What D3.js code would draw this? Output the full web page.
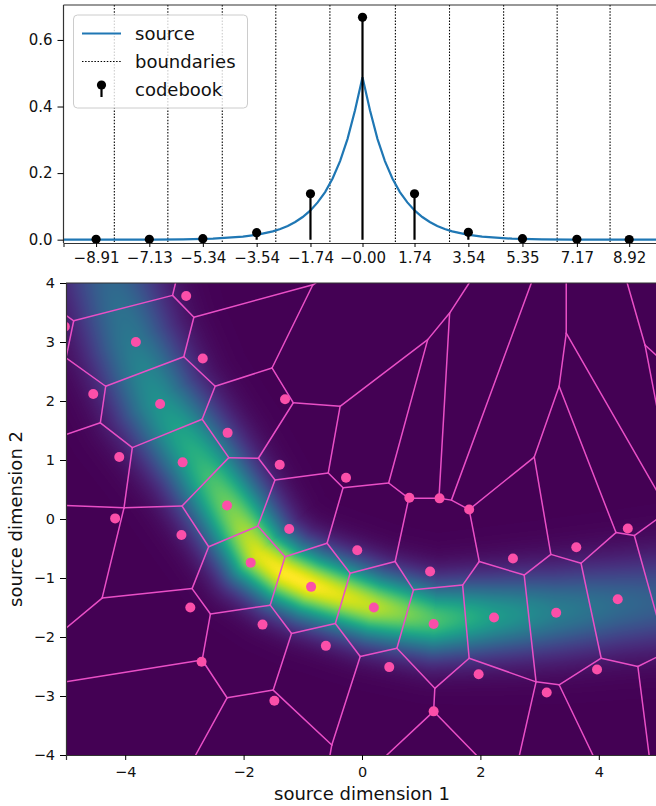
<!DOCTYPE html>
<html>
<head>
<meta charset="utf-8">
<script src="https://cdn.jsdelivr.net/npm/d3@7"></script>
<style>
body{margin:0;background:#fff;}
text{font-family:"DejaVu Sans",sans-serif;}
</style>
</head>
<body>
<svg id="fig" width="656" height="806"></svg>
<script>
// ---------- top panel: 1-d source and its quantizer ----------
var codebook=[-8.91,-7.13,-5.34,-3.54,-1.74,-0.00,1.74,3.54,5.35,7.17,8.92];
var codebookLabels=["\u22128.91","\u22127.13","\u22125.34","\u22123.54","\u22121.74","\u22120.00","1.74","3.54","5.35","7.17","8.92"];
var codebookProb=[0.001,0.001,0.003,0.021,0.138,0.668,0.138,0.022,0.003,0.001,0.0005];
var boundaries=[-8.30,-6.51,-4.69,-2.90,-1.09,1.10,2.91,4.72,6.51,8.28];
var sourceX=[-10,-9,-8,-7,-6,-5,-4,-3.5,-3,-2.75,-2.5,-2.25,-2,-1.75,-1.5,-1.25,-1,-0.75,-0.5,-0.25,0,0.25,0.5,0.75,1,1.25,1.5,1.75,2,2.25,2.5,2.75,3,3.5,4,5,6,7,8,9,10];
var sourceY=[0.000,0.000,0.000,0.000,0.001,0.003,0.009,0.015,0.025,0.032,0.041,0.053,0.068,0.087,0.112,0.143,0.184,0.236,0.303,0.389,0.488,0.389,0.303,0.236,0.184,0.143,0.112,0.087,0.068,0.053,0.041,0.032,0.025,0.015,0.009,0.003,0.001,0.000,0.000,0.000,0.000];
var topYTicks=[0,0.2,0.4,0.6];

// ---------- bottom panel: 2-d banana source ----------
// ridge of the density (centre line), its height and its spread
var ridgeX=[-4.40,-4.22,-3.90,-3.45,-2.75,-2.12,-1.75,-1.30,-0.88,0.19,1.21,2.23,3.28,4.32,5.00,5.60];
var ridgeY=[4.60,4.00,3.00,2.00,1.00,0.00,-0.60,-0.93,-1.12,-1.48,-1.70,-1.64,-1.57,-1.46,-1.40,-1.35];
var ridgePeak=[0.28,0.33,0.40,0.50,0.64,0.82,0.95,1.00,1.00,0.90,0.72,0.55,0.42,0.34,0.30,0.27];
var ridgeSpread=[0.55,0.54,0.52,0.50,0.47,0.44,0.42,0.41,0.41,0.41,0.42,0.45,0.48,0.50,0.52,0.53];

// codebook vectors
var pointsX=[-5.02,-2.97,-3.82,-2.69,-4.54,-3.41,-2.27,-4.10,-3.03,-2.28,-4.17,-1.30,-1.39,-1.23,-0.27,0.80,1.31,1.81,4.49,-3.05,-1.88,-0.86,-2.90,-1.68,-0.61,-2.71,-1.48,-0.08,1.15,0.20,1.21,0.46,1.21,2.55,3.62,2.23,3.28,4.32,1.97,3.97,3.12];
var pointsY=[3.26,3.78,3.00,2.72,2.12,1.95,1.46,1.05,0.96,0.23,0.01,2.03,0.92,-0.17,0.70,0.36,0.35,0.16,-0.16,-0.27,-0.74,-1.15,-1.50,-1.79,-2.15,-2.42,-3.08,-0.53,-0.89,-1.50,-1.78,-2.51,-3.26,-0.67,-0.48,-1.67,-1.59,-1.36,-2.63,-2.55,-2.94];

// quantization cell boundaries: nodes and the edges between them
var cellNodes={
 A:[-3.20,3.79],At:[-3.15,4.00],L:[-4.87,3.36],Ll:[-5.00,3.45],M:[-5.00,2.73],B:[-2.84,3.42],
 C:[-3.01,2.75],D:[-4.33,2.25],E:[-2.48,2.25],F:[-2.70,1.69],G:[-3.88,1.21],K:[-4.42,1.63],
 Kl:[-5.00,1.43],H:[-2.25,1.04],I:[-3.04,0.22],J:[-4.02,0.19],Jl:[-5.00,0.23],N:[-0.83,3.97],
 Nt:[-0.78,4.00],P:[-1.52,2.56],Q:[-1.16,1.97],R:[-0.37,1.91],S:[-1.75,1.03],T:[-1.47,0.66],
 V:[-0.57,0.78],Y:[-1.76,-0.12],X:[-2.59,-0.47],W:[-2.87,-1.18],U:[-4.39,-1.34],Ul:[-5.00,-1.85],
 Z:[-2.56,-1.61],ZZ:[-1.55,-1.46],AA:[-2.70,-2.39],AAl:[-5.00,-2.76],AB:[-2.28,-3.03],ABb:[-2.81,-4.00],
 Y2:[-1.30,-0.64],AC:[-1.19,-1.94],AD:[-0.45,-1.77],AE:[-1.50,-2.90],AF:[-0.51,-3.83],AFb:[-0.54,-4.00],
 AG:[-0.03,-2.33],AH:[0.59,-2.19],AI:[-0.20,-0.92],AJ:[-0.59,-0.41],AK:[0.56,-0.72],AL:[0.87,-1.20],
 AM:[1.23,-2.87],AN:[1.21,-3.26],ANb:[0.42,-4.00],ANb2:[1.93,-4.00],AO:[1.98,-0.72],AP:[1.70,-1.12],
 AQ:[1.81,-2.36],AR:[2.74,-0.95],AS:[3.19,-0.60],AT:[2.94,-2.76],ATb:[2.66,-4.00],AU:[3.70,-0.75],
 AV:[4.29,-0.23],AX:[4.60,-0.28],AXr1:[5.00,0.01],AXr2:[5.00,-1.72],AW:[4.04,-2.36],AY:[3.33,-2.81],
 AYb:[3.90,-4.00],BJ:[4.66,-2.50],BJr:[5.00,-2.33],BJb:[4.85,-4.00],BB:[-0.32,0.53],BA:[0.45,0.61],
 AZ:[0.79,0.35],BC:[1.30,0.35],BH:[1.51,0.32],BD:[1.81,0.16],BE:[2.91,1.05],BF:[3.33,2.25],
 BG:[3.45,3.15],BGt:[3.45,4.00],BGr:[5.00,0.44],TV:[1.48,3.49],TVt:[1.81,4.00],R2:[1.11,3.04],
 BHt:[2.86,4.00],BI:[4.78,2.95],BIt:[4.48,4.00],BIr:[5.00,2.75],BId:[5.00,1.80]
};
var cellEdges=[
 ["A","At"],["A","L"],["A","B"],["L","Ll"],["L","M"],["D","M"],["B","N"],["N","Nt"],["B","C"],["C","D"],
 ["C","E"],["D","K"],["K","Kl"],["K","G"],["E","F"],["E","P"],["F","G"],["F","H"],["G","J"],["J","Jl"],
 ["J","U"],["H","I"],["I","J"],["I","X"],["H","S"],["P","N"],["P","Q"],["Q","R"],["Q","S"],["S","T"],
 ["T","V"],["T","Y"],["V","R"],["V","BB"],["BB","BA"],["BB","AJ"],["BA","R2"],["R","R2"],["R2","TV"],["TV","TVt"],
 ["TV","BC"],["BA","AZ"],["AZ","BC"],["AZ","AK"],["BC","BH"],["BH","BHt"],["BH","BD"],["BD","BE"],["BD","AO"],["BE","BF"],
 ["BE","AS"],["BF","BG"],["BF","AV"],["BG","BGt"],["BG","BGr"],["BI","BIt"],["BI","BIr"],["BI","BId"],["Y","X"],["Y","Y2"],
 ["X","W"],["W","U"],["W","Z"],["U","Ul"],["Z","ZZ"],["Z","AA"],["AA","AAl"],["AA","AB"],["AB","ABb"],["AB","AE"],
 ["Y2","ZZ"],["Y2","AJ"],["ZZ","AC"],["AC","AD"],["AC","AE"],["AE","AF"],["AF","AFb"],["AF","AG"],["AG","AD"],["AG","AH"],
 ["AD","AI"],["AI","AJ"],["AI","AK"],["AK","AL"],["AL","AP"],["AL","AH"],["AH","AM"],["AM","AN"],["AM","AQ"],["AN","ANb"],
 ["AN","ANb2"],["AP","AO"],["AP","AQ"],["AO","AR"],["AR","AS"],["AR","AT"],["AS","AU"],["AU","AV"],["AU","AW"],["AV","AX"],
 ["AX","AXr1"],["AX","AXr2"],["AQ","AT"],["AT","ATb"],["AT","AY"],["AY","AW"],["AY","AYb"],["AW","BJ"],["BJ","BJr"],["BJ","BJb"]
];
var botXTicks=[-4,-2,0,2,4];
var botYTicks=[-4,-3,-2,-1,0,1,2,3,4];

var svg=d3.select("#fig");
var defs=svg.append("defs");

// ================= top panel =================
var tp={l:63.5,r:661.5,t:5,b:243};
var xTop=d3.scaleLinear().domain([-10,10]).range([tp.l,tp.r]);
var yTop=d3.scaleLinear().domain([-0.01,0.705]).range([tp.b,tp.t]);

defs.append("clipPath").attr("id","clipTop").append("rect")
  .attr("x",tp.l).attr("y",tp.t).attr("width",tp.r-tp.l).attr("height",tp.b-tp.t);

var gTop=svg.append("g").attr("clip-path","url(#clipTop)");

gTop.selectAll("line.bnd").data(boundaries).enter().append("line")
  .attr("class","bnd")
  .attr("x1",d=>xTop(d)).attr("x2",d=>xTop(d))
  .attr("y1",tp.t).attr("y2",tp.b)
  .attr("stroke","#000").attr("stroke-width",1.1).attr("stroke-dasharray","1.5,1.6");

var srcLine=d3.line().x(d=>xTop(d[0])).y(d=>yTop(d[1]));
gTop.append("path")
  .datum(sourceX.map((x,i)=>[x,sourceY[i]]))
  .attr("d",srcLine).attr("fill","none").attr("stroke","#1f77b4").attr("stroke-width",2.2);

gTop.selectAll("line.stem").data(codebook).enter().append("line")
  .attr("class","stem")
  .attr("x1",d=>xTop(d)).attr("x2",d=>xTop(d))
  .attr("y1",yTop(0)).attr("y2",(d,i)=>yTop(codebookProb[i]))
  .attr("stroke","#000").attr("stroke-width",2.2);

gTop.selectAll("circle.cb").data(codebook).enter().append("circle")
  .attr("class","cb")
  .attr("cx",d=>xTop(d)).attr("cy",(d,i)=>yTop(codebookProb[i]))
  .attr("r",4.6).attr("fill","#000");

// spines
svg.append("line").attr("x1",tp.l).attr("x2",tp.l).attr("y1",tp.t).attr("y2",tp.b).attr("stroke","#333").attr("stroke-width",1.2);
svg.append("line").attr("x1",tp.l).attr("x2",tp.r).attr("y1",tp.t).attr("y2",tp.t).attr("stroke","#333").attr("stroke-width",1.2);

var axTopX=d3.axisBottom(xTop).tickValues(codebook).tickSize(4).tickPadding(5)
  .tickFormat((d,i)=>codebookLabels[i]);
var gax=svg.append("g").attr("transform","translate(0,"+tp.b+")").call(axTopX);
gax.select(".domain").attr("stroke","#333").attr("stroke-width",1.2);
gax.selectAll("text").attr("font-size",15).attr("fill","#111");

var axTopY=d3.axisLeft(yTop).tickValues(topYTicks).tickSize(6).tickPadding(5).tickFormat(d3.format(".1f"));
var gay=svg.append("g").attr("transform","translate("+tp.l+",0)").call(axTopY);
gay.select(".domain").remove();
gay.selectAll("text").attr("font-size",15).attr("fill","#111");

// legend
var lg=svg.append("g");
lg.append("rect").attr("x",73.5).attr("y",15).attr("width",174).attr("height",93).attr("rx",4)
  .attr("fill","#fff").attr("fill-opacity",0.8).attr("stroke","#ccc").attr("stroke-width",1);
lg.append("line").attr("x1",82).attr("x2",121).attr("y1",33.5).attr("y2",33.5)
  .attr("stroke","#1f77b4").attr("stroke-width",2.2);
lg.append("line").attr("x1",82).attr("x2",121).attr("y1",61.5).attr("y2",61.5)
  .attr("stroke","#000").attr("stroke-width",1.1).attr("stroke-dasharray","1.5,1.6");
lg.append("line").attr("x1",101.5).attr("x2",101.5).attr("y1",85).attr("y2",97)
  .attr("stroke","#000").attr("stroke-width",2.2);
lg.append("circle").attr("cx",101.5).attr("cy",85).attr("r",4.6).attr("fill","#000");
[["source",39.5],["boundaries",67.5],["codebook",95.5]].forEach(function(e){
  lg.append("text").attr("x",135).attr("y",e[1]).attr("font-size",18).attr("fill","#111").text(e[0]);
});

// ================= bottom panel =================
var bp={l:66,r:658,t:283,b:755};
var xBot=d3.scaleLinear().domain([-5,5]).range([bp.l,bp.r]);
var yBot=d3.scaleLinear().domain([-4,4]).range([bp.b,bp.t]);

defs.append("clipPath").attr("id","clipBot").append("rect")
  .attr("x",bp.l).attr("y",bp.t).attr("width",bp.r-bp.l).attr("height",bp.b-bp.t);

// density image: gaussian cross-section around the ridge line
var ridge=ridgeX.map((x,i)=>({x:x,y:ridgeY[i],a:ridgePeak[i],w:ridgeSpread[i]}));
function density(px,py){
  var best=Infinity,ba=0,bw=1;
  for(var i=0;i<ridge.length-1;i++){
    var p=ridge[i],q=ridge[i+1];
    var dx=q.x-p.x,dy=q.y-p.y,l2=dx*dx+dy*dy;
    var t=((px-p.x)*dx+(py-p.y)*dy)/l2;
    t=Math.max(0,Math.min(1,t));
    var cx=p.x+t*dx-px,cy=p.y+t*dy-py,d2=cx*cx+cy*cy;
    if(d2<best){best=d2;ba=p.a+t*(q.a-p.a);bw=p.w+t*(q.w-p.w);}
  }
  return ba*Math.exp(-best/(2*bw*bw));
}
var lut=d3.range(256).map(k=>d3.rgb(d3.interpolateViridis(k/255)));
var cw=Math.round(bp.r-bp.l),ch=Math.round(bp.b-bp.t);
var cv=document.createElement("canvas");cv.width=cw;cv.height=ch;
var ctx=cv.getContext("2d");
var img=ctx.createImageData(cw,ch);
for(var j=0;j<ch;j++){
  var dyv=yBot.invert(bp.t+j+0.5);
  for(var i=0;i<cw;i++){
    var v=density(xBot.invert(bp.l+i+0.5),dyv);
    var c=lut[Math.max(0,Math.min(255,Math.round(v*255)))];
    var o=(j*cw+i)*4;
    img.data[o]=c.r;img.data[o+1]=c.g;img.data[o+2]=c.b;img.data[o+3]=255;
  }
}
ctx.putImageData(img,0,0);

var gBot=svg.append("g").attr("clip-path","url(#clipBot)");
gBot.append("image").attr("href",cv.toDataURL())
  .attr("x",bp.l).attr("y",bp.t).attr("width",cw).attr("height",ch)
  .attr("preserveAspectRatio","none");

gBot.selectAll("line.cell").data(cellEdges).enter().append("line")
  .attr("class","cell")
  .attr("x1",d=>xBot(cellNodes[d[0]][0])).attr("y1",d=>yBot(cellNodes[d[0]][1]))
  .attr("x2",d=>xBot(cellNodes[d[1]][0])).attr("y2",d=>yBot(cellNodes[d[1]][1]))
  .attr("stroke","#e94fc6").attr("stroke-width",1.5).attr("stroke-linecap","round");

gBot.selectAll("circle.pt").data(pointsX).enter().append("circle")
  .attr("class","pt")
  .attr("cx",d=>xBot(d)).attr("cy",(d,i)=>yBot(pointsY[i]))
  .attr("r",5).attr("fill","#fb4fa9");

svg.append("line").attr("x1",bp.l).attr("x2",bp.r).attr("y1",bp.t).attr("y2",bp.t).attr("stroke","#333").attr("stroke-width",1.2);

var axBotX=d3.axisBottom(xBot).tickValues(botXTicks).tickSize(5).tickPadding(7).tickFormat(d=>d<0?"\u2212"+(-d):d);
var gbx=svg.append("g").attr("transform","translate(0,"+bp.b+")").call(axBotX);
gbx.select(".domain").attr("stroke","#333").attr("stroke-width",1.2);
gbx.selectAll("text").attr("font-size",14.5).attr("fill","#111");

var axBotY=d3.axisLeft(yBot).tickValues(botYTicks).tickSize(6).tickPadding(5).tickFormat(d=>d<0?"\u2212"+(-d):d);
var gby=svg.append("g").attr("transform","translate("+bp.l+",0)").call(axBotY);
gby.select(".domain").attr("stroke","#333").attr("stroke-width",1.2);
gby.selectAll("text").attr("font-size",14.5).attr("fill","#111");

svg.append("text").attr("x",(bp.l+bp.r)/2).attr("y",800).attr("text-anchor","middle")
  .attr("font-size",18).attr("fill","#111").text("source dimension 1");
svg.append("text").attr("transform","translate(22,"+((bp.t+bp.b)/2)+") rotate(-90)")
  .attr("text-anchor","middle").attr("font-size",18).attr("fill","#111").text("source dimension 2");
</script>
</body>
</html>
